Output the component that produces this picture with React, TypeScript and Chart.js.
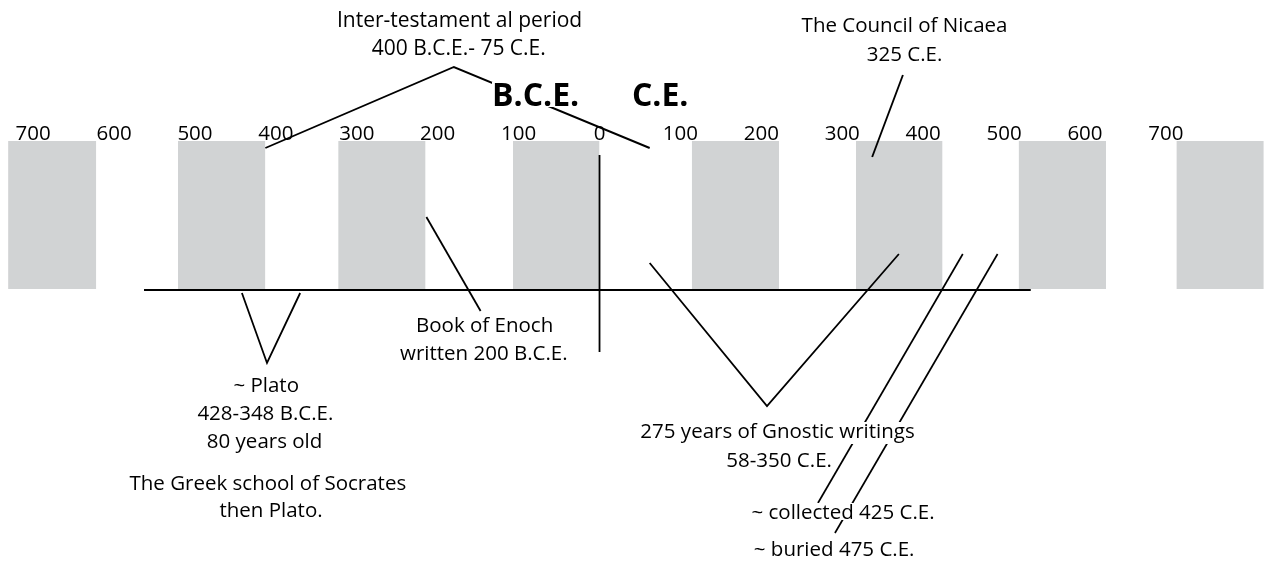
import React, { useEffect, useRef } from "react";
import { Chart, registerables } from "chart.js";

Chart.register(...registerables);

// ---- Timeline axis (years; negative = B.C.E.) ----
const TICK_YEARS = [-700, -600, -500, -400, -300, -200, -100, 0, 100, 200, 300, 400, 500, 600, 700];
const TICK_LABELS = ["700", "600", "500", "400", "300", "200", "100", "0", "100", "200", "300", "400", "500", "600", "700"];
const TICK_LEVEL = 140;

// ---- Alternating century bands (as drawn) ----
const BAND_START = [-731, -521, -323, -107, 114, 317, 518, 713];
const BAND_END = [-622, -413, -215, 0, 222, 424, 626, 821];
const BAND_TOP = 141;
const BAND_BOTTOM = 289;

// ---- Connector lines: [year, level] ----
const AXIS_LINE = [[-563, 290], [533, 290]];
const ZERO_LINE = [[0, 155], [0, 352]];
const INTERTESTAMENT_LINE = [[-413, 148], [-180, 67], [62, 148]];
const PLATO_LINE = [[-442, 293], [-411, 363], [-370, 293]];
const ENOCH_LINE = [[-214, 217], [-147, 311]];
const GNOSTIC_LINE = [[62, 263], [207, 406], [370, 254]];
const NICAEA_LINE = [[337, 157], [375, 75]];
const COLLECTED_LINE = [[449, 254], [270, 503]];
const BURIED_LINE = [[492, 254], [291, 533]];

// ---- Era labels ----
const ERA_TEXT = ["B.C.E.", "C.E."];
const ERA_YEAR = [-79, 75];
const ERA_LEVEL = 106;

// ---- Notes ----
const NOTE_TEXT = [
  "Inter-testament al period",
  "400 B.C.E.- 75 C.E.",
  "The Council of Nicaea",
  "325 C.E.",
  "Book of Enoch",
  "written 200 B.C.E.",
  "~ Plato",
  "428-348 B.C.E.",
  "80 years old",
  "The Greek school of Socrates",
  "then Plato.",
  "275 years of Gnostic writings",
  "58-350 C.E.",
  "~ collected 425 C.E.",
  "~ buried 475 C.E.",
];
const NOTE_YEAR = [-173, -174, 377, 377, -142, -143, -412, -413, -414, -410, -406, 220, 222, 301, 290];
const NOTE_LEVEL = [27, 55, 31.5, 60.5, 331.5, 359.5, 391.5, 420, 448, 490, 516.5, 438, 467, 519, 556];

const INK = "#000000";
const GRAY = "#d1d3d4";
const FONT = '"Open Sans", "Noto Sans", sans-serif';

export default function App() {
  const ref = useRef<HTMLCanvasElement>(null);

  useEffect(() => {
    const canvas = ref.current;
    if (!canvas) return;

    const pts = (arr: number[][]) => arr.map(([x, y]) => ({ x, y }));

    const bandSets = BAND_START.map((s, i) => ({
      data: [
        { x: s, y: BAND_TOP },
        { x: BAND_END[i], y: BAND_TOP },
      ],
      showLine: true,
      borderWidth: 0,
      borderColor: "rgba(0,0,0,0)",
      backgroundColor: GRAY,
      fill: { value: BAND_BOTTOM },
      pointRadius: 0,
      order: 2,
    }));

    const lineDefs: [number[][], number][] = [
      [AXIS_LINE, 2.2],
      [ZERO_LINE, 1.8],
      [INTERTESTAMENT_LINE, 1.9],
      [PLATO_LINE, 1.8],
      [ENOCH_LINE, 1.8],
      [GNOSTIC_LINE, 1.8],
      [NICAEA_LINE, 1.9],
      [COLLECTED_LINE, 1.7],
      [BURIED_LINE, 1.7],
    ];
    const lineSets = lineDefs.map(([arr, w]) => ({
      data: pts(arr),
      showLine: true,
      borderColor: INK,
      borderWidth: w,
      borderJoinStyle: "miter" as const,
      fill: false,
      pointRadius: 0,
      tension: 0,
      order: 1,
    }));

    const textPlugin = {
      id: "timelineText",
      afterDatasetsDraw(chart: any) {
        const ctx = chart.ctx as CanvasRenderingContext2D;
        const xs = chart.scales.x;
        const ys = chart.scales.y;
        ctx.save();
        ctx.textAlign = "center";
        ctx.textBaseline = "alphabetic";

        // tick labels
        ctx.font = `20.5px ${FONT}`;
        ctx.fillStyle = INK;
        TICK_YEARS.forEach((yr, i) => {
          ctx.fillText(TICK_LABELS[i], xs.getPixelForValue(yr), ys.getPixelForValue(TICK_LEVEL));
        });

        const knockout = (t: string, x: number, y: number) => {
          const m = ctx.measureText(t);
          ctx.fillStyle = "#ffffff";
          ctx.fillRect(
            x - m.actualBoundingBoxLeft - 2,
            y - m.actualBoundingBoxAscent - 1,
            m.actualBoundingBoxLeft + m.actualBoundingBoxRight + 4,
            m.actualBoundingBoxAscent + m.actualBoundingBoxDescent + 2
          );
          ctx.fillStyle = INK;
          ctx.fillText(t, x, y);
        };

        // era labels
        ctx.font = `bold 32px ${FONT}`;
        ERA_TEXT.forEach((t, i) => {
          knockout(t, xs.getPixelForValue(ERA_YEAR[i]), ys.getPixelForValue(ERA_LEVEL));
        });

        // notes
        NOTE_TEXT.forEach((t, i) => {
          ctx.font = `${i < 2 ? 21 : 20.5}px ${FONT}`;
          knockout(t, xs.getPixelForValue(NOTE_YEAR[i]), ys.getPixelForValue(NOTE_LEVEL[i]));
        });
        ctx.restore();
      },
    };

    const chart = new Chart(canvas, {
      type: "scatter",
      data: { datasets: [...lineSets, ...bandSets] as any },
      options: {
        animation: false,
        responsive: false,
        events: [],
        layout: { padding: 0 },
        plugins: { legend: { display: false }, tooltip: { enabled: false } },
        scales: {
          x: { type: "linear", min: -741, max: 825, display: false },
          y: { type: "linear", min: 0, max: 561, reverse: true, display: false },
        },
      },
      plugins: [textPlugin],
    });

    return () => chart.destroy();
  }, []);

  return (
    <div style={{ position: "fixed", left: 0, top: 0, width: 1267, height: 561, background: "#ffffff" }}>
      <canvas ref={ref} width={1267} height={561} style={{ display: "block" }} />
    </div>
  );
}
